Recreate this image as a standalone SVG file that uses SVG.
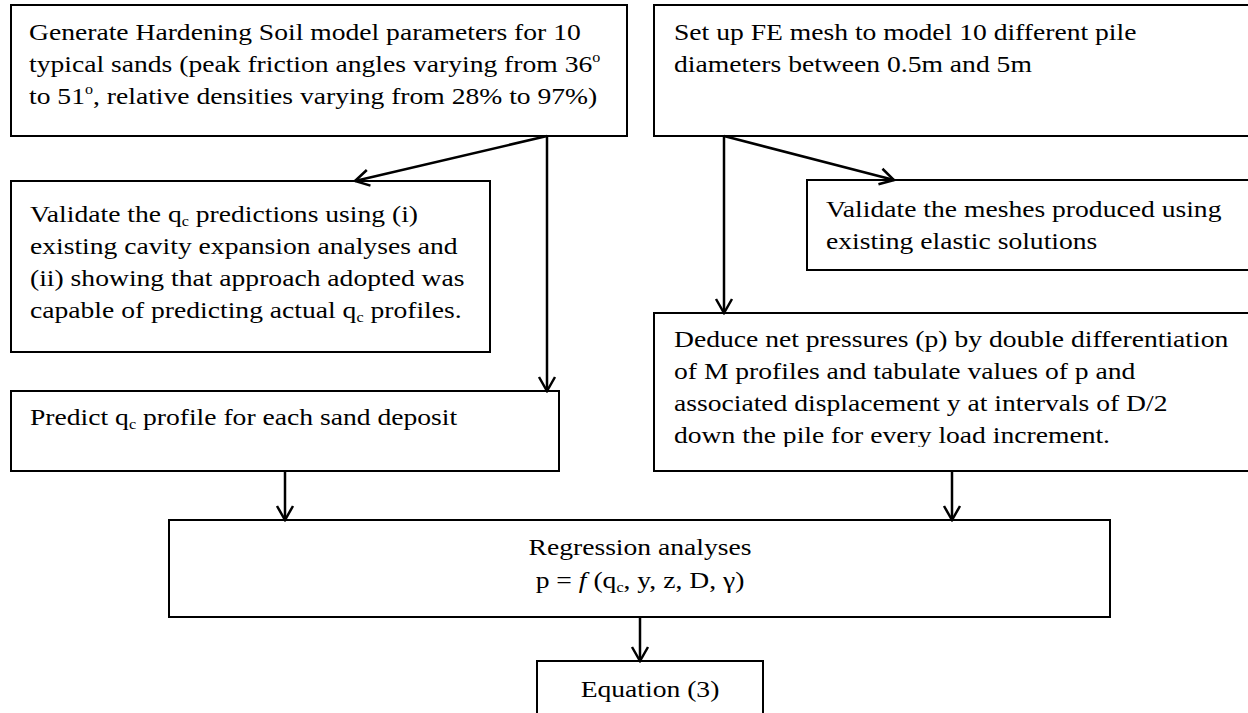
<svg xmlns="http://www.w3.org/2000/svg" width="1248" height="713" viewBox="0 0 1248 713">
<style>
.box{fill:#fff;stroke:#000;stroke-width:2}
.t{font-family:"Liberation Serif","Times New Roman",serif;font-size:24px;fill:#000}
.c{stroke:#000;stroke-width:2.5;fill:none}
.sub{font-size:14px}
</style>
<defs>
<marker id="ah" viewBox="0 0 20 20" refX="18" refY="10" markerWidth="20" markerHeight="20" markerUnits="userSpaceOnUse" orient="auto">
<path d="M4 2 L18 10 L4 18" fill="none" stroke="#000" stroke-width="2.5"/>
</marker>
<clipPath id="clip6" clipPathUnits="userSpaceOnUse"><rect x="654" y="313" width="610" height="134"/></clipPath>
</defs>
<rect width="1248" height="713" fill="#fff"/>
<g id="n1">
<rect class="box" x="11" y="5" width="616" height="131"/>
<g transform="translate(29 0) scale(1.15 1)">
<text class="t" x="0" y="40">Generate Hardening Soil model parameters for 10</text>
<text class="t" x="0" y="72">typical sands (peak friction angles varying from 36<tspan class="sub" dy="-10">o</tspan></text>
<text class="t" x="0" y="104">to 51<tspan class="sub" dy="-10">o</tspan><tspan dy="10">, relative densities varying from 28% to 97%)</tspan></text>
</g>
</g>
<g id="n2">
<rect class="box" x="654" y="5" width="610" height="131"/>
<g transform="translate(674 0) scale(1.15 1)">
<text class="t" x="0" y="40">Set up FE mesh to model 10 different pile</text>
<text class="t" x="0" y="72">diameters between 0.5m and 5m</text>
</g>
</g>
<g id="n3">
<rect class="box" x="11" y="181" width="479" height="171"/>
<g transform="translate(30 0) scale(1.15 1)">
<text class="t" x="0" y="222">Validate the q<tspan class="sub" dy="4">c</tspan><tspan dy="-4"> predictions using (i)</tspan></text>
<text class="t" x="0" y="254">existing cavity expansion analyses and</text>
<text class="t" x="0" y="286">(ii) showing that approach adopted was</text>
<text class="t" x="0" y="318">capable of predicting actual q<tspan class="sub" dy="4">c</tspan><tspan dy="-4"> profiles.</tspan></text>
</g>
</g>
<g id="n4">
<rect class="box" x="11" y="391" width="548" height="80"/>
<g transform="translate(30 0) scale(1.15 1)">
<text class="t" x="0" y="425">Predict q<tspan class="sub" dy="4">c</tspan><tspan dy="-4"> profile for each sand deposit</tspan></text>
</g>
</g>
<g id="n5">
<rect class="box" x="807" y="180" width="457" height="90"/>
<g transform="translate(826 0) scale(1.15 1)">
<text class="t" x="0" y="217">Validate the meshes produced using</text>
<text class="t" x="0" y="249">existing elastic solutions</text>
</g>
</g>
<g id="n6">
<rect class="box" x="654" y="313" width="610" height="158"/>
<g clip-path="url(#clip6)">
<g transform="translate(674 0) scale(1.15 1)">
<text class="t" x="0" y="347">Deduce net pressures (p) by double differentiation</text>
<text class="t" x="0" y="379">of M profiles and tabulate values of p and</text>
<text class="t" x="0" y="411">associated displacement y at intervals of D/2</text>
<text class="t" x="0" y="443">down the pile for every load increment.</text>
</g>
</g>
</g>
<g id="n7">
<rect class="box" x="169" y="520" width="941" height="97"/>
<g transform="translate(640 0) scale(1.15 1)">
<text class="t" x="0" y="555" text-anchor="middle">Regression analyses</text>
<text class="t" x="0" y="588" text-anchor="middle">p = <tspan font-style="italic">f</tspan> (q<tspan class="sub" dy="4">c</tspan><tspan dy="-4">, y, z, D, γ)</tspan></text>
</g>
</g>
<g id="n8">
<rect class="box" x="537" y="661" width="226" height="70"/>
<g transform="translate(650 0) scale(1.15 1)">
<text class="t" x="0" y="697" text-anchor="middle">Equation (3)</text>
</g>
</g>
<g id="connectors">
<line class="c" x1="547" y1="136" x2="355" y2="181" marker-end="url(#ah)"/>
<line class="c" x1="547" y1="136" x2="547" y2="391" marker-end="url(#ah)"/>
<line class="c" x1="285" y1="471" x2="285" y2="520" marker-end="url(#ah)"/>
<line class="c" x1="724" y1="136" x2="894" y2="180" marker-end="url(#ah)"/>
<line class="c" x1="724" y1="136" x2="724" y2="313" marker-end="url(#ah)"/>
<line class="c" x1="952" y1="471" x2="952" y2="520" marker-end="url(#ah)"/>
<line class="c" x1="640" y1="617" x2="640" y2="661" marker-end="url(#ah)"/>
</g>
</svg>
